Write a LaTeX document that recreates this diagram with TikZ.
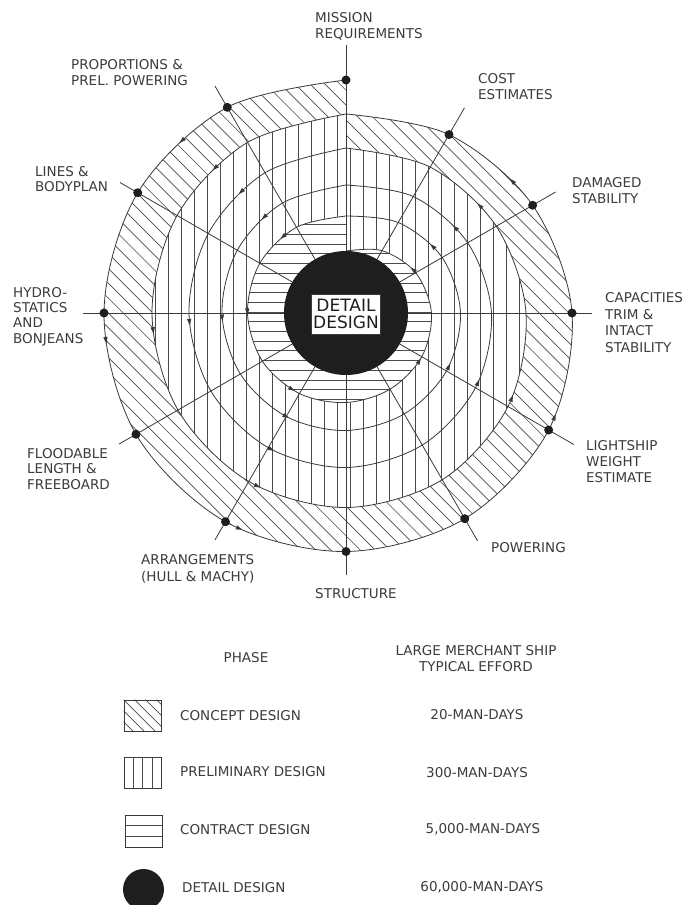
\documentclass[tikz,border=0pt]{standalone}
\usepackage{fontspec}
\setmainfont{DejaVu Sans}
\usetikzlibrary{decorations.markings,calc}
\definecolor{ink}{HTML}{3A3A3A}
\definecolor{hatch}{HTML}{4A4A4A}
\definecolor{txt}{HTML}{3C3C3C}
\definecolor{blk}{HTML}{1E1E1E}
\newcommand\SpiralA{plot[smooth,tension=0.55] coordinates {(90:233pt) (120:237.5pt) (150:240.5pt) (180:242pt) (210:242.5pt) (240:241pt) (270:238.5pt) (300:237.5pt) (330:234pt) (360:226pt) (390:215.5pt) (420:206pt) (450:199pt)}}
\newcommand\SpiralB{plot[smooth,tension=0.55] coordinates {(90:199pt) (120:197pt) (150:195pt) (180:194pt) (210:194pt) (240:194.5pt) (270:194.5pt) (300:192.5pt) (330:187pt) (360:180pt) (390:173.5pt) (420:168.5pt) (450:165pt)}}
\newcommand\SpiralC{plot[smooth,tension=0.55] coordinates {(90:165pt) (120:162pt) (150:159pt) (180:157pt) (210:156pt) (240:155.5pt) (270:154.5pt) (300:152.5pt) (330:149.5pt) (360:145.5pt) (390:140.5pt) (420:134.5pt) (450:128pt)}}
\newcommand\SpiralD{plot[smooth,tension=0.55] coordinates {(90:128pt) (120:127pt) (150:125.5pt) (180:124pt) (210:122pt) (240:119.5pt) (270:117.5pt) (300:116.5pt) (330:116pt) (360:114.5pt) (390:111pt) (420:104.5pt) (450:97pt)}}
\newcommand\SpiralE{plot[smooth,tension=0.55] coordinates {(90:97pt) (120:99pt) (150:99.5pt) (180:98.5pt) (210:96.5pt) (240:93pt) (270:89.5pt) (300:88pt) (330:87.5pt) (360:85.5pt) (390:80.5pt) (420:72pt) (450:62pt)}}
\newcommand\FlowTip{\fill[ink] (-6pt,2.2pt) -- (0.6pt,0pt) -- (-6pt,-2.2pt) -- cycle;}
\begin{document}
\begin{tikzpicture}[x=1pt,y=1pt,
  lbl/.style={anchor=north west, align=left, inner sep=0pt, text=txt, font=\fontsize{13.5}{15.8}\selectfont},
  lgd/.style={inner sep=0pt, text=txt, font=\fontsize{13.5}{15.8}\selectfont, text height=9.8pt, text depth=0pt},
  spiralline/.style={draw=ink, line width=0.8pt, postaction={decorate},
    decoration={markings,
      mark=at position 0.125 with {\FlowTip},
      mark=at position 0.278 with {\FlowTip},
      mark=at position 0.444 with {\FlowTip},
      mark=at position 0.70 with {\FlowTip},
      mark=at position 0.875 with {\FlowTip}}},
  spoke/.style={draw=ink, line width=0.8pt},
  stepdot/.style={circle, fill=blk, inner sep=0pt, minimum size=9pt},
  hatchline/.style={draw=hatch, line width=0.7pt},
  legbox/.style={draw=ink, line width=0.8pt, inner sep=0pt, minimum width=37pt, minimum height=31pt},
]
\useasboundingbox (0,-905) rectangle (694,0);
\fill[white] (0,-905) rectangle (694,0);

\begin{scope}[shift={(346,-313)}]
  % concept design: diagonal hatch
  \begin{scope}
    \clip \SpiralA -- cycle;
    \foreach \k in {-36,...,36}
      \draw[hatchline] ({\k*14.85-260},260) -- ({\k*14.85+260},-260);
  \end{scope}
  % preliminary design: vertical hatch
  \begin{scope}
    \clip \SpiralB -- cycle;
    \fill[white] (-260,-260) rectangle (260,260);
    \foreach \k in {-20,...,20}
      \draw[hatchline] ({\k*13+4},-260) -- ({\k*13+4},260);
  \end{scope}
  % contract design: horizontal hatch
  \begin{scope}
    \clip \SpiralE -- cycle;
    \fill[white] (-260,-260) rectangle (260,260);
    \foreach \k in {-12,...,12}
      \draw[hatchline] (-260,{\k*9.7+1}) -- (260,{\k*9.7+1});
  \end{scope}
  % spiral turns
  \draw[spiralline] \SpiralA;
  \draw[spiralline] \SpiralB;
  \draw[spiralline] \SpiralC;
  \draw[spiralline] \SpiralD;
  \draw[spiralline] \SpiralE;
  % detail design core
  \node[circle, fill=blk, inner sep=0pt, outer sep=0pt, minimum size=124pt] (detail) at (0,0) {};
  % leader ends
  \coordinate (eMission) at (90:268pt);
  \coordinate (eProp) at (120:262pt);
  \coordinate (eLines) at (150:261pt);
  \coordinate (eHydro) at (180:263pt);
  \coordinate (eFlood) at (210:262pt);
  \coordinate (eArr) at (240:262pt);
  \coordinate (eStruct) at (270:262pt);
  \coordinate (ePow) at (300:263pt);
  \coordinate (eLight) at (330:263pt);
  \coordinate (eCap) at (0:246pt);
  \coordinate (eDam) at (30:242pt);
  \coordinate (eCost) at (60:237pt);
  \foreach \e in {eMission,eProp,eLines,eHydro,eFlood,eArr,eStruct,ePow,eLight,eCap,eDam,eCost}
    \draw[spoke] (detail) -- (\e);
  % design steps
  \node[stepdot] (dMission) at (90:233pt) {};
  \node[stepdot] (dProp) at (120:237.5pt) {};
  \node[stepdot] (dLines) at (150:240.5pt) {};
  \node[stepdot] (dHydro) at (180:242pt) {};
  \node[stepdot] (dFlood) at (210:242.5pt) {};
  \node[stepdot] (dArr) at (240:241pt) {};
  \node[stepdot] (dStruct) at (270:238.5pt) {};
  \node[stepdot] (dPow) at (300:237.5pt) {};
  \node[stepdot] (dLight) at (330:234pt) {};
  \node[stepdot] (dCap) at (0:226pt) {};
  \node[stepdot] (dDam) at (30:215.5pt) {};
  \node[stepdot] (dCost) at (60:206pt) {};
  \node[draw=ink, line width=0.6pt, fill=white, inner sep=1.5pt, minimum width=69pt, minimum height=40pt,
        align=center, text=blk, font=\fontsize{17}{16.3}\selectfont] (dlabel) at (0,-1) {DETAIL\\DESIGN};
\end{scope}

% step labels
\node[lbl] (tMission) at (315,-12) {MISSION\\REQUIREMENTS};
\node[lbl] (tProp) at (71,-59) {PROPORTIONS \&\\PREL. POWERING};
\node[lbl] (tCost) at (478,-73) {COST\\ESTIMATES};
\node[lbl] (tDam) at (572,-177) {DAMAGED\\STABILITY};
\node[lbl, font=\fontsize{13.5}{16.5}\selectfont] (tCap) at (605,-292.5) {CAPACITIES\\TRIM \&\\INTACT\\STABILITY};
\node[lbl, font=\fontsize{13.5}{16.2}\selectfont] (tLight) at (586,-440) {LIGHTSHIP\\WEIGHT\\ESTIMATE};
\node[lbl] (tPow) at (491,-542) {POWERING};
\node[lbl] (tStruct) at (315,-588) {STRUCTURE};
\node[lbl, font=\fontsize{13.5}{16.8}\selectfont] (tArr) at (141,-554) {ARRANGEMENTS\\(HULL \& MACHY)};
\node[lbl, font=\fontsize{13.5}{15.5}\selectfont] (tFlood) at (27,-448) {FLOODABLE\\LENGTH \&\\FREEBOARD};
\node[lbl, font=\fontsize{13.5}{15.3}\selectfont] (tHydro) at (13,-287) {HYDRO-\\STATICS\\AND\\BONJEANS};
\node[lbl, font=\fontsize{13.5}{15.2}\selectfont] (tLines) at (35,-166) {LINES \&\\BODYPLAN};

% legend
\node[lgd] (hPhase) at (246,-658) {PHASE};
\node[lbl, anchor=north, align=center] (hEffort) at (476,-645) {LARGE MERCHANT SHIP\\TYPICAL EFFORD};

\node[legbox] (bConcept) at (142.5,-715.5) {};
\begin{scope}
  \clip (bConcept.south west) rectangle (bConcept.north east);
  \foreach \o in {-22,-11,0,11,22,33}
    \draw[hatchline] ([xshift=\o pt]bConcept.north west) -- ++(40,-40);
\end{scope}
\node[legbox] (bConcept2) at (142.5,-715.5) {};
\node[lgd, anchor=west] (lConcept) at (180,-716) {CONCEPT DESIGN};
\node[lgd] (vConcept) at (477,-715) {20-MAN-DAYS};

\node[legbox] (bPrelim) at (142.5,-773) {};
\foreach \f in {0.25,0.5,0.75}
  \draw[hatchline] ($(bPrelim.north west)!\f!(bPrelim.north east)$) -- ($(bPrelim.south west)!\f!(bPrelim.south east)$);
\node[lgd, anchor=west] (lPrelim) at (180,-772) {PRELIMINARY DESIGN};
\node[lgd] (vPrelim) at (477,-773) {300-MAN-DAYS};

\node[legbox, minimum height=32pt] (bContract) at (143.5,-831) {};
\foreach \f in {0.3333,0.6667}
  \draw[hatchline] ($(bContract.north west)!\f!(bContract.south west)$) -- ($(bContract.north east)!\f!(bContract.south east)$);
\node[lgd, anchor=west] (lContract) at (180,-830) {CONTRACT DESIGN};
\node[lgd] (vContract) at (483,-829) {5,000-MAN-DAYS};

\node[circle, fill=blk, inner sep=0pt, minimum size=41pt] (bDetail) at (143.5,-889.5) {};
\node[lgd, anchor=west] (lDetail) at (182,-888) {DETAIL DESIGN};
\node[lgd] (vDetail) at (482,-887) {60,000-MAN-DAYS};
\end{tikzpicture}
\end{document}
